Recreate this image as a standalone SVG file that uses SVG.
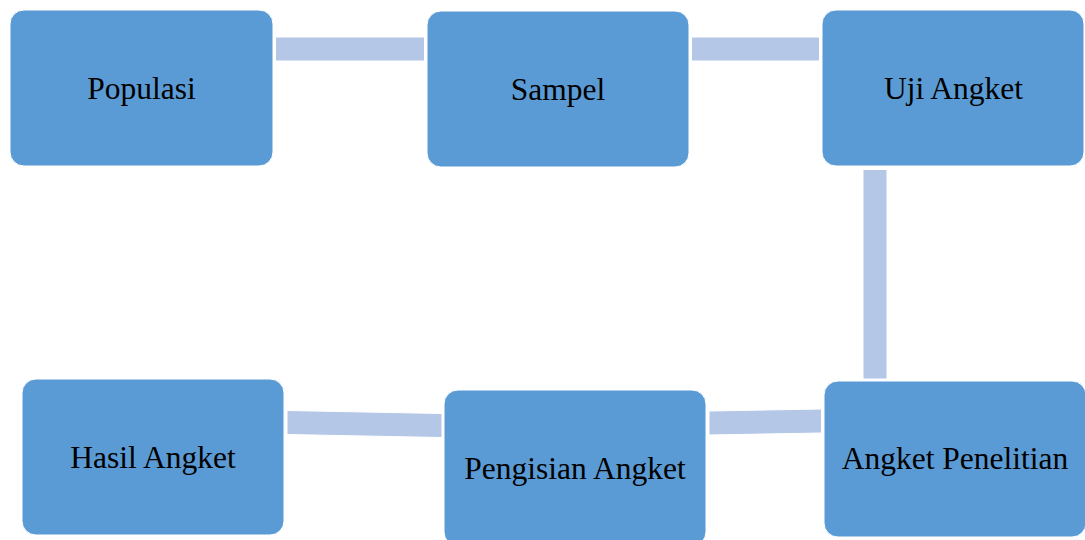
<svg xmlns="http://www.w3.org/2000/svg" width="1085" height="540" viewBox="0 0 1085 540">
<style>
.box{fill:#5B9BD5;stroke:#FFFFFF;stroke-width:1}
.con{fill:#B4C7E7;stroke:#FFFFFF;stroke-width:1}
.lbl{font-family:"Liberation Serif","Times New Roman",serif;font-size:31.5px;fill:#000;text-anchor:middle}
</style>
<rect width="1085" height="540" fill="#FFFFFF"/>
<g id="connectors">
<polygon class="con" points="275.5,37 424.5,37 424.5,61 275.5,61"/>
<polygon class="con" points="691.5,37 819.5,37 819.5,61 691.5,61"/>
<polygon class="con" points="863,169.5 887,169.5 887,379 863,379"/>
<polygon class="con" points="709,411 821.5,409 821.5,433 709,435"/>
<polygon class="con" points="287,410.5 442,413.5 442,437.5 287,434.5"/>
</g>
<g id="populasi"><rect class="box" x="10" y="10" width="263" height="156" rx="14"/><text class="lbl" x="141.5" y="98.5">Populasi</text></g>
<g id="sampel"><rect class="box" x="427" y="11" width="262" height="156" rx="14"/><text class="lbl" x="558" y="99.5">Sampel</text></g>
<g id="uji-angket"><rect class="box" x="822" y="10" width="262" height="156" rx="14"/><text class="lbl" x="953.5" y="99">Uji Angket</text></g>
<g id="angket-penelitian"><rect class="box" x="824" y="381" width="262" height="156" rx="14"/><text class="lbl" x="955" y="468.5">Angket Penelitian</text></g>
<g id="pengisian-angket"><rect class="box" x="444" y="390" width="262" height="156" rx="14"/><text class="lbl" x="575" y="478.5">Pengisian Angket</text></g>
<g id="hasil-angket"><rect class="box" x="22" y="379" width="262" height="156" rx="14"/><text class="lbl" x="153" y="467.5">Hasil Angket</text></g>
</svg>
